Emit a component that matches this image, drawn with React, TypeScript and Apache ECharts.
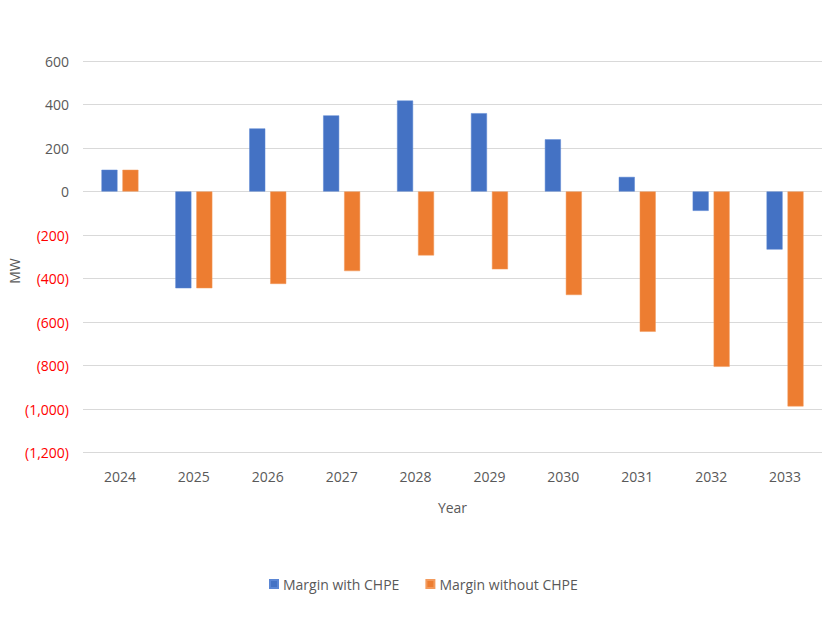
import React, { useEffect, useRef } from "react";
import * as echarts from "echarts";

const categories = ["2024", "2025", "2026", "2027", "2028", "2029", "2030", "2031", "2032", "2033"];
const marginWithCHPE = [100, -445, 290, 350, 418, 360, 240, 67, -89, -267];
const marginWithoutCHPE = [100, -445, -425, -366, -294, -358, -476, -645, -806, -988];
const yTicks = { min: -1200, max: 600, interval: 200 };
const yAxisTitle = "MW";
const xAxisTitle = "Year";

const FONT = "'Open Sans', 'Noto Sans', sans-serif";

function fmt(v: number): string {
  const s = Math.abs(v).toLocaleString("en-US");
  return v < 0 ? `{neg|(${s})}` : `{pos|${s}}`;
}

export default function App() {
  const ref = useRef<HTMLDivElement>(null);
  useEffect(() => {
    document.body.style.margin = "0";
    if (!ref.current) return;
    const chart = echarts.init(ref.current, undefined, { renderer: "svg" });
    chart.setOption({
      animation: false,
      backgroundColor: "#ffffff",
      textStyle: { fontFamily: FONT },
      grid: {
        left: 83,
        right: 4,
        top: 61,
        bottom: 167.5,
        containLabel: false,
        outerBoundsMode: "none",
      },
      graphic: [
        {
          type: "text",
          x: 14,
          y: 271,
          rotation: Math.PI / 2,
          style: {
            text: yAxisTitle,
            fill: "#595959",
            fontSize: 14,
            fontFamily: FONT,
            align: "center",
            verticalAlign: "middle",
          },
        },
      ],
      legend: {
        left: 264,
        top: 572,
        icon: "rect",
        itemWidth: 8,
        itemHeight: 8,
        itemGap: 26,
        textStyle: { color: "#595959", fontSize: 14, fontFamily: FONT },
        data: ["Margin with CHPE", "Margin without CHPE"],
      },
      xAxis: {
        type: "category",
        data: categories,
        name: xAxisTitle,
        nameLocation: "middle",
        nameGap: 48,
        nameTextStyle: { color: "#595959", fontSize: 14, fontFamily: FONT },
        axisLine: { show: false, onZero: false },
        axisTick: { show: false },
        axisLabel: { color: "#595959", fontSize: 14, margin: 17, fontFamily: FONT },
      },
      yAxis: {
        type: "value",
        min: yTicks.min,
        max: yTicks.max,
        interval: yTicks.interval,
        axisLine: { show: false },
        axisTick: { show: false },
        splitLine: { lineStyle: { color: "#d9d9d9", width: 1 } },
        axisLabel: {
          margin: 14,
          formatter: (v: number) => fmt(v),
          rich: {
            pos: { color: "#595959", fontSize: 14, fontFamily: FONT },
            neg: { color: "#ff0000", fontSize: 14, fontFamily: FONT },
          },
        },
      },
      series: [
        {
          name: "Margin with CHPE",
          type: "bar",
          data: marginWithCHPE,
          barWidth: 16,
          barGap: "31%",
          itemStyle: { color: "#4472C4", borderColor: "#5b86d4", borderWidth: 0.5 },
        },
        {
          name: "Margin without CHPE",
          type: "bar",
          data: marginWithoutCHPE,
          barWidth: 16,
          itemStyle: { color: "#ED7D31", borderColor: "#f39a5c", borderWidth: 0.5 },
        },
      ],
    });
    return () => chart.dispose();
  }, []);
  return <div ref={ref} style={{ width: 826, height: 620 }} />;
}
